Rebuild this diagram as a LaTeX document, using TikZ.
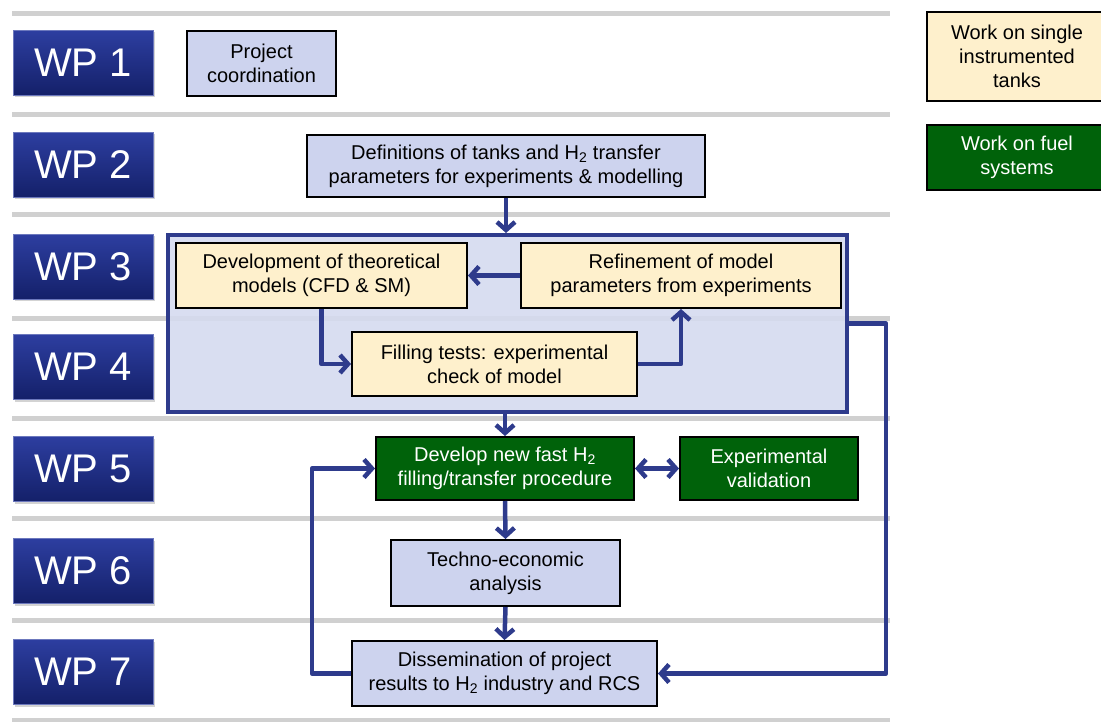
\documentclass[tikz,border=0pt]{standalone}
\usepackage{fontspec}
\setmainfont{Liberation Sans}
\usepackage{xcolor}
\usetikzlibrary{arrows.meta,shadows,calc}
\definecolor{navy}{RGB}{46,59,140}
\definecolor{lavender}{RGB}{205,211,238}
\definecolor{grpfill}{RGB}{213,218,239}
\definecolor{cream}{RGB}{254,240,204}
\definecolor{fuelgreen}{RGB}{0,98,10}
\definecolor{wptop}{RGB}{45,62,160}
\definecolor{wpbot}{RGB}{20,32,105}
\definecolor{sepgray}{RGB}{208,208,208}
\tikzset{
	thick,
	wpbox/.style = {
			rectangle,
			minimum width  = 140pt,
			minimum height = 65pt,
			top color      = wptop,
			bottom color   = wpbot,
			draw           = wptop!70!white,
			line width     = 1pt,
			text           = white,
			font           = \fontsize{40}{44}\selectfont,
			drop shadow    = {shadow xshift=2pt, shadow yshift=-2pt, opacity=0.35},
		},
	task/.style = {
			rectangle,
			draw       = black,
			line width = 2pt,
			align      = center,
			inner sep  = 2pt,
			font       = \fontsize{20}{24}\selectfont,
		},
	planbox/.style = {task, fill=lavender},
	tankbox/.style = {task, fill=cream},
	fuelbox/.style = {task, fill=fuelgreen, text=white},
	flow/.style = {
			draw       = navy,
			line width = 4.5pt,
			line join  = round,
			-{Straight Barb[length=8pt,width=18pt]},
		},
	sep/.style = {draw=sepgray, line width=5pt},
}

\begin{document}
\begin{tikzpicture}[x=1pt, y=-1pt]
	\useasboundingbox (0,0) rectangle (1101,722);

	% row separators
	\foreach \y in {14,115,215,318,418,518,620,720}
	\draw[sep] (12,\y) -- (890,\y);

	% work package labels
	\foreach \n/\y in {1/63,2/165,3/267,4/367,5/469,6/571,7/672}
	\node[wpbox] (wp\n) at (83,\y) {WP \n};

	% legend
	\node[tankbox, minimum width=180pt, minimum height=89pt] (legtank) at (1017,56.5) {Work on single\\instrumented\\tanks};
	\node[fuelbox, minimum width=180pt, minimum height=65pt] (legfuel) at (1017,157.5) {Work on fuel\\systems};

	% WP 1 and WP 2
	\node[planbox, minimum width=149pt, minimum height=65pt] (coord) at (261.5,63.5) {Project\\coordination};
	\node[planbox, minimum width=398pt, minimum height=62pt] (defs) at (506,166) {Definitions of tanks and H\textsubscript{2} transfer\\parameters for experiments \& modelling};

	% WP 3 / WP 4 group
	\node[draw=navy, line width=4pt, fill=grpfill, fill opacity=0.9,
		minimum width=679pt, minimum height=177pt] (grp) at (507.5,323.5) {};
	\node[tankbox, minimum width=291pt, minimum height=65pt] (theory) at (321.5,275.5) {Development of theoretical\\models (CFD \& SM)};
	\node[tankbox, minimum width=320pt, minimum height=65pt] (refine) at (681,275.5) {Refinement of model\\parameters from experiments};
	\node[tankbox, minimum width=285pt, minimum height=64pt] (filling) at (494.5,364) {Filling tests: experimental\\check of model};

	% WP 5 to WP 7
	\node[fuelbox, minimum width=258pt, minimum height=63pt] (develop) at (505,468.5) {Develop new fast H\textsubscript{2}\\filling/transfer procedure};
	\node[fuelbox, minimum width=178pt, minimum height=63pt] (valid) at (769,468.5) {Experimental\\validation};
	\node[planbox, minimum width=229pt, minimum height=66pt] (techno) at (505.5,573) {Techno-economic\\analysis};
	\node[planbox, minimum width=305pt, minimum height=65pt] (dissem) at (504.5,673.5) {Dissemination of project\\results to H\textsubscript{2} industry and RCS};

	% connectors
	\draw[flow] (defs.south) -- (defs.south |- grp.north);
	\draw[flow] (refine.west) -- (theory.east);
	\draw[flow] (theory.south) |- (filling.west);
	\draw[flow] (filling.east) -| (refine.south);
	\draw[flow] (develop.north |- grp.south) -- (develop.north);
	\draw[flow, {Straight Barb[length=8pt,width=18pt]}-{Straight Barb[length=8pt,width=18pt]}] (develop.east) -- (valid.west);
	\draw[flow] (develop.south) -- (techno.north);
	\draw[flow] (techno.south) -- (dissem.north);
	\draw[flow] (grp.east) -- ++(37,0) |- (dissem.east);
	\draw[flow] (dissem.west) -- ++(-39,0) |- (develop.west);

\end{tikzpicture}
\end{document}
